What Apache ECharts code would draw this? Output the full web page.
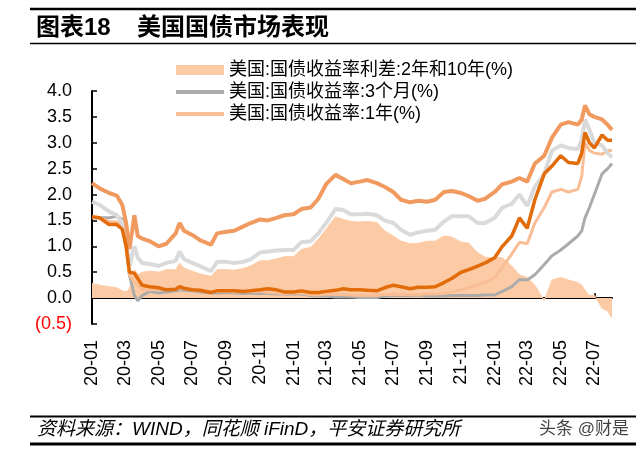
<!DOCTYPE html>
<html><head><meta charset="utf-8">
<script src="https://cdn.jsdelivr.net/npm/echarts@6/dist/echarts.min.js"></script>
<style>html,body{margin:0;padding:0;background:#fff}#c{width:640px;height:454px}</style>
</head><body><div id="c"></div>
<script>
const dates = [
'2020-01-01','2020-01-15','2020-02-01','2020-02-15','2020-02-25','2020-03-03','2020-03-09','2020-03-18','2020-03-24','2020-04-01',
'2020-04-15','2020-05-01','2020-05-15','2020-06-01','2020-06-08','2020-06-16','2020-07-01','2020-07-15','2020-08-04','2020-08-15',
'2020-09-01','2020-09-15','2020-10-01','2020-10-15','2020-11-01','2020-11-15','2020-12-01','2020-12-15','2021-01-01','2021-01-15',
'2021-02-01','2021-02-15','2021-03-01','2021-03-18','2021-04-01','2021-04-15','2021-05-01','2021-05-15','2021-06-01','2021-06-15',
'2021-07-01','2021-07-15','2021-08-01','2021-08-15','2021-09-01','2021-09-15','2021-10-01','2021-10-15','2021-11-01','2021-11-15',
'2021-12-01','2021-12-15','2022-01-01','2022-01-15','2022-02-01','2022-02-15','2022-03-01','2022-03-15','2022-04-01','2022-04-15',
'2022-05-01','2022-05-15','2022-06-01','2022-06-08','2022-06-14','2022-06-22','2022-07-01','2022-07-15','2022-07-25','2022-08-02'];

const spread2y10y = [
0.28,0.25,0.22,0.20,0.14,0.12,0.18,0.55,0.45,0.50,
0.52,0.50,0.55,0.55,0.68,0.58,0.52,0.47,0.42,0.55,
0.55,0.54,0.57,0.62,0.72,0.72,0.76,0.80,0.80,0.94,
0.98,1.14,1.33,1.57,1.52,1.48,1.47,1.48,1.46,1.30,
1.20,1.10,1.05,1.06,1.10,1.10,1.20,1.18,1.08,1.06,
0.88,0.79,0.78,0.78,0.62,0.45,0.40,0.25,-0.05,0.35,
0.40,0.35,0.30,0.25,0.15,0.05,0.05,-0.20,-0.25,-0.38];

const yield3m = [
1.55,1.55,1.55,1.58,1.52,1.00,0.45,0.05,-0.05,0.05,
0.13,0.10,0.12,0.14,0.16,0.15,0.14,0.12,0.10,0.10,
0.11,0.10,0.09,0.10,0.09,0.09,0.08,0.08,0.08,0.08,
0.05,0.04,0.04,0.02,0.02,0.02,0.01,0.01,0.01,0.04,
0.05,0.05,0.05,0.06,0.04,0.04,0.04,0.05,0.05,0.05,
0.05,0.06,0.06,0.13,0.22,0.36,0.35,0.45,0.65,0.82,
0.93,1.05,1.20,1.30,1.55,1.75,2.00,2.40,2.50,2.60];

const yield1y = [
1.56,1.54,1.48,1.47,1.40,0.95,0.45,0.30,0.25,0.16,
0.16,0.16,0.16,0.17,0.20,0.18,0.16,0.14,0.12,0.13,
0.13,0.12,0.13,0.13,0.13,0.11,0.10,0.09,0.10,0.10,
0.07,0.06,0.08,0.07,0.07,0.06,0.05,0.05,0.05,0.07,
0.07,0.07,0.07,0.07,0.08,0.08,0.09,0.12,0.16,0.20,
0.26,0.30,0.40,0.60,0.85,1.08,1.05,1.45,1.75,2.05,
2.10,2.05,2.10,2.35,3.00,2.85,2.80,2.78,2.85,2.85];

const yield2y = [
1.57,1.55,1.42,1.42,1.33,1.00,0.50,0.48,0.38,0.25,
0.22,0.20,0.16,0.17,0.22,0.19,0.16,0.15,0.11,0.14,
0.14,0.14,0.13,0.14,0.16,0.18,0.16,0.12,0.12,0.14,
0.11,0.11,0.13,0.15,0.18,0.16,0.16,0.15,0.14,0.20,
0.25,0.22,0.18,0.21,0.21,0.22,0.30,0.38,0.50,0.55,
0.62,0.68,0.78,1.00,1.20,1.55,1.35,1.90,2.40,2.55,
2.75,2.62,2.60,2.80,3.20,3.00,2.90,3.15,3.05,3.05];

const yield10y = [
1.86,1.80,1.67,1.60,1.45,1.10,0.62,1.00,0.78,0.68,
0.66,0.62,0.68,0.72,0.90,0.75,0.68,0.62,0.52,0.70,
0.70,0.68,0.70,0.75,0.88,0.90,0.92,0.93,0.93,1.08,
1.10,1.25,1.45,1.72,1.70,1.62,1.62,1.63,1.60,1.50,
1.45,1.32,1.22,1.27,1.30,1.32,1.48,1.58,1.58,1.58,
1.45,1.45,1.55,1.75,1.82,2.00,1.78,2.15,2.40,2.85,
2.95,2.90,2.88,3.05,3.45,3.25,3.00,2.95,2.80,2.72];

const yield30y = [
2.22,2.12,2.03,1.98,1.80,1.45,0.95,1.60,1.20,1.15,
1.10,1.00,1.05,1.25,1.45,1.30,1.22,1.12,1.03,1.25,
1.28,1.30,1.38,1.45,1.52,1.50,1.55,1.60,1.62,1.72,
1.75,1.92,2.20,2.38,2.30,2.22,2.25,2.28,2.22,2.15,
2.05,1.90,1.85,1.88,1.86,1.90,2.05,2.07,2.03,1.97,
1.88,1.92,2.05,2.20,2.25,2.32,2.25,2.60,2.75,3.10,
3.35,3.40,3.35,3.45,3.72,3.55,3.50,3.45,3.35,3.25];

const tickDates = ['2020-01-01','2020-03-01','2020-05-01','2020-07-01','2020-09-01','2020-11-01',
'2021-01-01','2021-03-01','2021-05-01','2021-07-01','2021-09-01','2021-11-01',
'2022-01-01','2022-03-01','2022-05-01','2022-07-01'];
const tickLabels = ['20-01','20-03','20-05','20-07','20-09','20-11','21-01','21-03','21-05','21-07','21-09','21-11','22-01','22-03','22-05','22-07'];
const axisStart = '2020-01-01';
const axisEnd = '2022-08-02';

const names = {
  spread: '美国:国债收益率利差:2年和10年(%)',
  m3: '美国:国债收益率:3个月(%)',
  y1: '美国:国债收益率:1年(%)',
  y2: '美国:国债收益率:2年(%)',
  y10: '美国:国债收益率:10年(%)',
  y30: '美国:国债收益率:30年(%)'
};

function dayIndex(s) {
  return (Date.parse(s + 'T00:00:00Z') - Date.parse(axisStart + 'T00:00:00Z')) / 86400000;
}
const tickValues = tickDates.map(dayIndex);
function pairs(arr) { return dates.map((d, i) => [dayIndex(d), arr[i]]); }

const FONT = "'Liberation Sans', 'Noto Sans CJK SC', sans-serif";
const chart = echarts.init(document.getElementById('c'), null, {renderer: 'canvas'});

function lineSeries(name, arr, color, width) {
  return {
    name: name, type: 'line', data: pairs(arr), symbol: 'none', showSymbol: false,
    lineStyle: {color: color, width: width}, itemStyle: {color: color}, color: color
  };
}

chart.setOption({
  animation: false,
  textStyle: {fontFamily: FONT},
  title: [
    {text: '图表18', left: 36, top: 16, padding: 0, textStyle: {fontSize: 24, fontWeight: 'bold', color: '#000', fontFamily: FONT}},
    {text: '美国国债市场表现', left: 137, top: 16, padding: 0, textStyle: {fontSize: 24, fontWeight: 'bold', color: '#000', fontFamily: FONT}}
  ],
  legend: [
    {data: [names.spread], left: 176, top: 61, padding: 0, icon: 'rect', itemWidth: 48, itemHeight: 10,
     itemStyle: {borderWidth: 0}, textStyle: {fontSize: 18, color: '#000', fontFamily: FONT}},
    {data: [names.m3, names.y1], orient: 'vertical', left: 176, top: 83, padding: 0, itemGap: 4, icon: 'rect',
     itemWidth: 48, itemHeight: 4, itemStyle: {borderWidth: 0}, textStyle: {fontSize: 18, color: '#000', fontFamily: FONT}}
  ],
  grid: {left: 92, right: 28, top: 91, bottom: 130},
  xAxis: {
    type: 'value', min: 0, max: dayIndex(axisEnd),
    splitLine: {show: false},
    axisLine: {show: true, onZero: true, lineStyle: {color: '#000', width: 2}},
    axisTick: {show: true, inside: true, length: 5, customValues: tickValues, lineStyle: {color: '#000', width: 1.5}},
    axisLabel: {
      customValues: tickValues, rotate: 90, margin: 16, fontSize: 18, color: '#000', fontFamily: FONT,
      formatter: function (v) { const i = tickValues.indexOf(v); return i >= 0 ? tickLabels[i] : ''; }
    }
  },
  yAxis: {
    type: 'value', min: -0.5, max: 4, interval: 0.5,
    splitLine: {show: false},
    axisLine: {show: true, lineStyle: {color: '#000', width: 2}},
    axisTick: {show: true, inside: true, length: 5, lineStyle: {color: '#000', width: 1.5}},
    axisLabel: {
      fontSize: 18, margin: 20, fontFamily: FONT,
      color: function (v) { return Number(v) < 0 ? '#FF0000' : '#000'; },
      formatter: function (v) { return v < 0 ? '(' + Math.abs(v).toFixed(1) + ')' : v.toFixed(1); }
    }
  },
  series: [
    {name: names.spread, type: 'line', data: pairs(spread2y10y), symbol: 'none', showSymbol: false,
     color: '#FCCBA6', itemStyle: {color: '#FCCBA6'},
     lineStyle: {color: '#FCCBA6', width: 1}, areaStyle: {color: '#FCCBA6', opacity: 1}},
    lineSeries(names.m3, yield3m, '#ABABAB', 3),
    lineSeries(names.y1, yield1y, '#F9BE95', 3),
    lineSeries(names.y10, yield10y, '#DADADA', 4),
    lineSeries(names.y30, yield30y, '#F19A60', 4),
    lineSeries(names.y2, yield2y, '#E36C0A', 3.5)
  ],
  graphic: [
    {type: 'line', shape: {x1: 30, y1: 9, x2: 636, y2: 9}, style: {stroke: '#000', lineWidth: 2.5}},
    {type: 'line', shape: {x1: 30, y1: 43.5, x2: 636, y2: 43.5}, style: {stroke: '#000', lineWidth: 1.5}},
    {type: 'line', shape: {x1: 30, y1: 416.5, x2: 636, y2: 416.5}, style: {stroke: '#000', lineWidth: 2}},
    {type: 'line', shape: {x1: 30, y1: 444, x2: 636, y2: 444}, style: {stroke: '#000', lineWidth: 3}},
    {type: 'text', left: 37, top: 420, style: {text: '资料来源：WIND，同花顺 iFinD，平安证券研究所', fontSize: 19, fontStyle: 'italic', fill: '#000', fontFamily: FONT}},
    {type: 'text', right: 11, top: 421, style: {text: '头条 @财是', fontSize: 17, fill: '#444', fontFamily: FONT}}
  ]
});
</script>
</body></html>
